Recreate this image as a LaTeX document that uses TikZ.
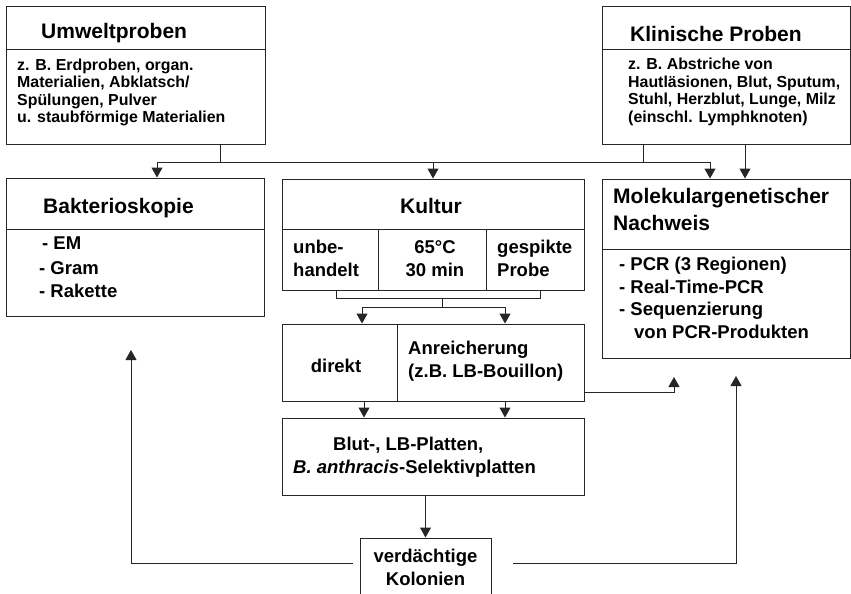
\documentclass[tikz,border=0pt]{standalone}
\usepackage{fontspec}
\setmainfont{Liberation Sans}
\usetikzlibrary{arrows.meta, positioning}
\tikzstyle{box} = [draw=black!85, line width=1pt, inner sep=0pt]
\tikzstyle{divider} = [draw=black!85, line width=1pt]
\tikzstyle{title} = [inner sep=0pt, anchor=base west, align=left, font=\bfseries\fontsize{21}{27}\selectfont]
\tikzstyle{sample} = [inner sep=0pt, anchor=base west, align=left, font=\bfseries\fontsize{15.9}{17.5}\selectfont]
\tikzstyle{item} = [inner sep=0pt, anchor=base west, align=left, font=\bfseries\fontsize{18.5}{22.5}\selectfont]
\tikzstyle{conn} = [draw=black!85, line width=1pt]
\tikzstyle{flow} = [conn, -{Triangle[width=11pt,length=10pt]}]

\begin{document}
\begin{tikzpicture}[x=1pt, y=-1pt]
  \clip (0,0) rectangle (851,594);
  % Proben (Textknoten: Anker auf der letzten Zeile)
  \node[box, minimum width=259pt, minimum height=137pt] (umwelt) at (135.5,75.5) {};
  \node[box, minimum width=248pt, minimum height=137pt] (klin) at (726,75.5) {};
  \draw[divider] ([yshift=-43pt]umwelt.north west) -- ([yshift=-43pt]umwelt.north east);
  \draw[divider] ([yshift=-43pt]klin.north west) -- ([yshift=-43pt]klin.north east);
  \node[title] (umweltT) at (41,38.5) {Umweltproben};
  \node[sample] (umweltB) at (17,122.5) {z. B. Erdproben, organ.\\Materialien, Abklatsch/\\Spülungen, Pulver\\u. staubförmige Materialien};
  \node[title] (klinT) at (630,41.5) {Klinische Proben};
  \node[sample] (klinB) at (628,122) {z. B. Abstriche von\\Hautläsionen, Blut, Sputum,\\Stuhl, Herzblut, Lunge, Milz\\(einschl. Lymphknoten)};

  % Nachweisverfahren
  \node[box, minimum width=258pt, minimum height=138pt] (bakt) at (135,247) {};
  \draw[divider] ([yshift=-52pt]bakt.north west) -- ([yshift=-52pt]bakt.north east);
  \node[title] (baktT) at (43,213) {Bakterioskopie};
  \node[item] (baktEM) at (42,249) {- EM};
  \node[item] (baktB) at (39,297) {- Gram\\- Rakette};

  \node[box, minimum width=302pt, minimum height=111pt] (kultur) at (433,234.5) {};
  \draw[divider] ([yshift=-51pt]kultur.north west) -- ([yshift=-51pt]kultur.north east);
  \draw[divider] ([xshift=97pt,yshift=-51pt]kultur.north west) -- ([xshift=97pt]kultur.south west);
  \draw[divider] ([xshift=205pt,yshift=-51pt]kultur.north west) -- ([xshift=205pt]kultur.south west);
  \node[title, anchor=base] (kulturT) at (431,213) {Kultur};
  \node[item] (unbe) at (293,276) {unbe-\\handelt};
  \node[item, anchor=base, align=center] (hitze) at (435,276) {65°C\\30 min};
  \node[item] (spike) at (497,276) {gespikte\\Probe};

  \node[box, minimum width=248pt, minimum height=179pt] (molek) at (726,268.5) {};
  \draw[divider] ([yshift=-71pt]molek.north west) -- ([yshift=-71pt]molek.north east);
  \node[title] (molekT) at (613,230) {Molekulargenetischer\\Nachweis};
  \node[item] (molekB) at (619,338) {- PCR (3 Regionen)\\- Real-Time-PCR\\- Sequenzierung\\\hspace*{15pt}von PCR-Produkten};

  % Anreicherung
  \node[box, minimum width=302pt, minimum height=77pt] (anr) at (433,362.5) {};
  \draw[divider] ([xshift=116pt]anr.north west) -- ([xshift=116pt]anr.south west);
  \node[item, anchor=base] (direkt) at (336,372) {direkt};
  \node[item] (anrT) at (408,377) {Anreicherung\\(z.B. LB-Bouillon)};

  \node[box, minimum width=302pt, minimum height=77pt] (blut) at (433,456.5) {};
  \node[item] (blutT) at (333,450) {Blut-, LB-Platten,};
  \node[item] (blutS) at (293,473) {\textit{B. anthracis}-Selektivplatten};

  \node[box, minimum width=131pt, minimum height=80pt] (kol) at (425.5,578) {};
  \node[item, anchor=base, align=center] (kolT) at (425.5,585) {verdächtige\\Kolonien};

  % Verbindungen oben
  \coordinate (j1) at (220,162);
  \draw[conn] (umwelt.south -| j1) -- (j1);
  \draw[flow] (j1) -| ([xshift=22pt]bakt.north);
  \draw[flow] (j1) -| (kultur.north);
  \draw[flow] (j1) -| ([xshift=-16pt]molek.north);
  \draw[conn] ([xshift=-83pt]klin.south) -- ++(0,18);
  \draw[flow] ([xshift=19pt]klin.south) -- ([xshift=19pt]molek.north);

  % Kultur -> direkt / Anreicherung
  \coordinate (k1) at (442,298);
  \draw[conn] ([xshift=-97pt]kultur.south) -- ++(0,8) -| ([xshift=107pt]kultur.south);
  \draw[conn] (k1) -- ++(0,9) coordinate (k2);
  \draw[flow] (k2) -| ([xshift=-71pt]anr.north);
  \draw[flow] (k2) -| ([xshift=72pt]anr.north);
  \draw[flow] ([xshift=-69pt]anr.south) -- ([xshift=-69pt]blut.north);
  \draw[flow] ([xshift=72pt]anr.south) -- ([xshift=72pt]blut.north);
  \coordinate (m1) at (674,377);
  \draw[flow] ([yshift=-29.5pt]anr.east) -| (m1);
  \draw[flow] (blut.south -| kol.north) -- (kol.north);

  % Rueckkopplung
  \coordinate (kl) at (353,563);
  \coordinate (kr) at (513,563);
  \coordinate (b1) at (131,350);
  \coordinate (m2) at (736,376);
  \draw[flow] (kl) -| (b1);
  \draw[flow] (kr) -| (m2);
\end{tikzpicture}
\end{document}
